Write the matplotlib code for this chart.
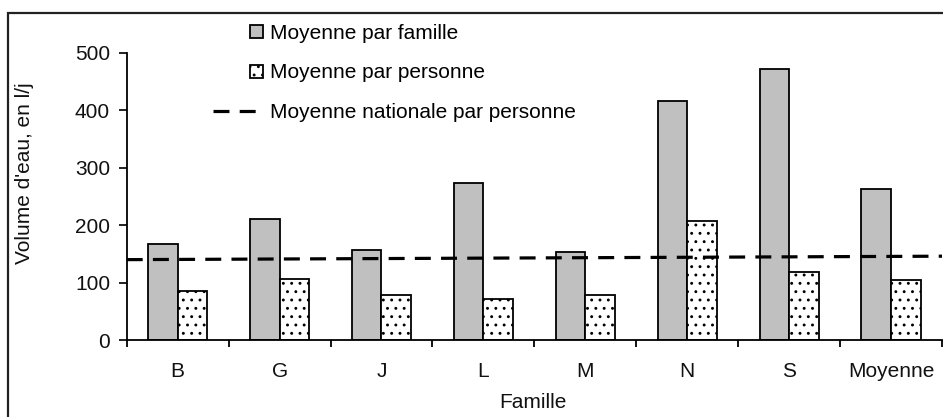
import matplotlib
matplotlib.use("Agg")
import matplotlib.pyplot as plt
import numpy as np
from matplotlib.patches import Rectangle
from matplotlib.legend_handler import HandlerPatch

# Water use per family (litres per day)
familles = ["B", "G", "J", "L", "M", "N", "S", "Moyenne"]
moyenne_famille = [167, 210, 157, 274, 153, 417, 472, 263]
moyenne_personne = [86, 107, 79, 72, 79, 207, 118, 104]
moyenne_nationale = [140, 146]  # national average line, left and right ends
y_ticks = [0, 100, 200, 300, 400, 500]

plt.rcParams["font.family"] = ["Liberation Sans", "DejaVu Sans"]
plt.rcParams["hatch.linewidth"] = 0.9
FS = 15

W, H = 943, 417
fig = plt.figure(figsize=(W / 100, H / 100), dpi=100)
ax = fig.add_axes([126.7 / W, 1 - 340 / H, (942 - 126.7) / W, (340 - 53) / H])

x = np.arange(1, len(familles) + 1)
bw = 0.29
bars_f = ax.bar(x - bw / 2, moyenne_famille, width=bw, color="#c0c0c0",
                edgecolor="black", linewidth=1.3, label="Moyenne par famille", zorder=2)
bars_p = ax.bar(x + bw / 2, moyenne_personne, width=bw, color="white",
                edgecolor="black", linewidth=1.3, hatch="..",
                label="Moyenne par personne", zorder=2)

line, = ax.plot([0.5, 8.5], moyenne_nationale, color="black", linewidth=2.3,
                dashes=(5.0, 3.2), label="Moyenne nationale par personne",
                zorder=3, clip_on=False)

ax.set_xlim(0.5, 8.5)
ax.set_ylim(0, 500)
ax.set_yticks(y_ticks)
ax.set_xticks(x)
ax.set_xticklabels(familles)
ax.set_xticks(np.arange(0.5, 9.0, 1.0), minor=True)
ax.tick_params(axis="x", which="major", length=0, pad=16, labelsize=FS, colors="#111111")
ax.tick_params(axis="x", which="minor", length=5, width=1.3, direction="out")
ax.tick_params(axis="y", which="major", length=6, width=1.3, direction="out",
               pad=6, labelsize=FS, colors="#111111")
for s in ["top", "right"]:
    ax.spines[s].set_visible(False)
for s in ["left", "bottom"]:
    ax.spines[s].set_linewidth(1.3)

fig.text(533 / W, 1 - 403 / H, "Famille", ha="center", va="center", fontsize=FS, color="#111111")
fig.text(25 / W, 1 - 173 / H, "Volume d'eau, en l/j", rotation=90,
         ha="center", va="center", fontsize=FS, color="#111111")


def small_square(legend, orig_handle, xdescent, ydescent, width, height, fontsize):
    s = 0.62 * fontsize
    return Rectangle((-xdescent + width - s, -ydescent + (height - s) / 2), s, s)


hf = bars_f.patches[0]
hp = bars_p.patches[0]
fig.legend(handles=[hf, hp, line],
           labels=["Moyenne par famille", "Moyenne par personne",
                   "Moyenne nationale par personne"],
           loc="upper left", bbox_to_anchor=(213 / W, 1 - 24 / H),
           bbox_transform=fig.transFigure, frameon=False, borderpad=0,
           borderaxespad=0, handlelength=2.4, handletextpad=0.35,
           labelspacing=0.98, fontsize=FS,
           handler_map={hf: HandlerPatch(patch_func=small_square),
                        hp: HandlerPatch(patch_func=small_square)})

# outer frame of the figure
fig.patches.append(Rectangle((8 / W, -0.1), 1.2, 1.1 - 13 / H, transform=fig.transFigure,
                             fill=False, edgecolor="#222222", linewidth=1.6))

fig.savefig("out.png", dpi=100)
